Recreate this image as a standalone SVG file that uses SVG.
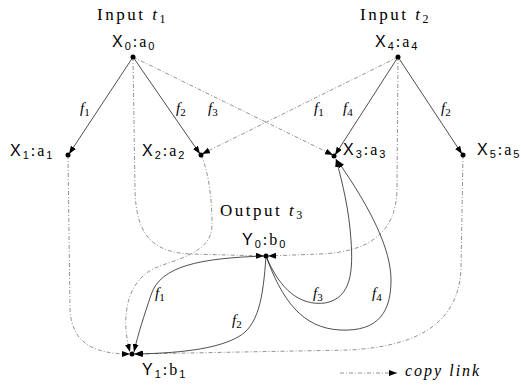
<svg xmlns="http://www.w3.org/2000/svg" width="521" height="385" viewBox="0 0 521 385">
<defs>
<marker id="ah" markerUnits="userSpaceOnUse" markerWidth="9" markerHeight="7" refX="8" refY="3" orient="auto">
<path d="M0,0 L8,3 L0,6 z" fill="#000"/>
</marker>
<style>
.solid{fill:none;stroke:#222;stroke-width:0.8}
.copy{fill:none;stroke:#777;stroke-width:0.8;stroke-dasharray:4 2 1 2}
.arr{marker-end:url(#ah)}
.pt{fill:#000}
.title{font-family:"Liberation Serif",serif;font-size:17px;letter-spacing:2.5px;fill:#000}
.node{font-family:"Liberation Sans",sans-serif;font-size:16px;letter-spacing:2px;fill:#000}
.ser{font-family:"Liberation Serif",serif}
.f{font-family:"Liberation Serif",serif;font-size:15px;font-style:italic;fill:#000}
.sub{font-size:11px;font-style:normal}
.leg{font-family:"Liberation Serif",serif;font-size:16px;font-style:italic;letter-spacing:2px;fill:#000}
</style>
</defs>
<rect width="521" height="385" fill="#fff"/>

<g id="connectors">
<path class="solid arr" d="M133,57 L69,154"/>
<path class="solid arr" d="M133,57 L200,154"/>
<path class="copy arr" d="M133,57 L333,155"/>
<path class="copy arr" d="M398,57 L202,154"/>
<path class="solid arr" d="M398,57 L335,155"/>
<path class="solid arr" d="M398,57 L462,154"/>
<path class="copy arr" d="M133,57 L135,190 C136,232 150,252 190,254 L264,256"/>
<path class="copy arr" d="M201,155 C210,175 212,205 212,225 C212,252 180,258 155,268 C125,282 121,320 130,352"/>
<path class="copy arr" d="M398,57 L397,190 C396,232 370,252 320,254 L268,256"/>
<path class="copy arr" d="M68,155 L70,310 C72,342 92,354 130,354"/>
<path class="copy arr" d="M463,155 L461,270 C458,322 420,346 350,350 L134,354"/>
<path class="solid arr" d="M266,256 C200,258 160,266 151,295 C144,316 138,334 134,352"/>
<path class="solid arr" d="M266,256 C263,300 258,326 238,337 C220,347 190,353 135,354"/>
<path class="solid arr" d="M266,256 C280,290 300,306 325,303 C352,298 353,270 351,240 C349,210 343,185 336,159"/>
<path class="solid arr" d="M266,256 C282,300 302,328 340,330 C380,332 391,310 391,280 C391,250 372,210 337,160"/>
</g>

<g id="edge-labels">
<text class="f" x="80" y="113">f<tspan class="sub" dy="3">1</tspan></text>
<text class="f" x="176" y="113">f<tspan class="sub" dy="3">2</tspan></text>
<text class="f" x="208" y="113">f<tspan class="sub" dy="3">3</tspan></text>
<text class="f" x="314" y="113">f<tspan class="sub" dy="3">1</tspan></text>
<text class="f" x="343" y="113">f<tspan class="sub" dy="3">4</tspan></text>
<text class="f" x="441" y="113">f<tspan class="sub" dy="3">2</tspan></text>
<text class="f" x="155" y="298">f<tspan class="sub" dy="3">1</tspan></text>
<text class="f" x="232" y="325">f<tspan class="sub" dy="3">2</tspan></text>
<text class="f" x="313" y="298">f<tspan class="sub" dy="3">3</tspan></text>
<text class="f" x="372" y="298">f<tspan class="sub" dy="3">4</tspan></text>
</g>

<g id="titles">
<text class="title" x="97" y="20">Input <tspan font-style="italic">t</tspan><tspan font-size="12" dy="3">1</tspan></text>
<text class="title" x="360" y="20">Input <tspan font-style="italic">t</tspan><tspan font-size="12" dy="3">2</tspan></text>
<text class="title" x="220" y="216">Output <tspan font-style="italic">t</tspan><tspan font-size="12" dy="3">3</tspan></text>
</g>

<g id="X0"><circle class="pt" cx="133" cy="57" r="2.5"/>
<text class="node" x="112" y="47">X<tspan font-size="11" dy="3">0</tspan><tspan class="ser" dy="-3">:a</tspan><tspan font-size="11" dy="3">0</tspan></text></g>
<g id="X4"><circle class="pt" cx="398" cy="57" r="2.5"/>
<text class="node" x="375" y="47">X<tspan font-size="11" dy="3">4</tspan><tspan class="ser" dy="-3">:a</tspan><tspan font-size="11" dy="3">4</tspan></text></g>
<g id="X1"><circle class="pt" cx="68" cy="155" r="2.5"/>
<text class="node" x="10" y="156">X<tspan font-size="11" dy="3">1</tspan><tspan class="ser" dy="-3">:a</tspan><tspan font-size="11" dy="3">1</tspan></text></g>
<g id="X2"><circle class="pt" cx="201" cy="155" r="2.5"/>
<text class="node" x="142" y="156">X<tspan font-size="11" dy="3">2</tspan><tspan class="ser" dy="-3">:a</tspan><tspan font-size="11" dy="3">2</tspan></text></g>
<g id="X3"><circle class="pt" cx="334" cy="156" r="2.5"/>
<text class="node" x="343" y="155">X<tspan font-size="11" dy="3">3</tspan><tspan class="ser" dy="-3">:a</tspan><tspan font-size="11" dy="3">3</tspan></text></g>
<g id="X5"><circle class="pt" cx="463" cy="155" r="2.5"/>
<text class="node" x="477" y="155">X<tspan font-size="11" dy="3">5</tspan><tspan class="ser" dy="-3">:a</tspan><tspan font-size="11" dy="3">5</tspan></text></g>
<g id="Y0"><circle class="pt" cx="266" cy="256" r="2.5"/>
<text class="node" x="242" y="245">Y<tspan font-size="11" dy="3">0</tspan><tspan class="ser" dy="-3">:b</tspan><tspan font-size="11" dy="3">0</tspan></text></g>
<g id="Y1"><circle class="pt" cx="132" cy="354" r="2.5"/>
<text class="node" x="142" y="375">Y<tspan font-size="11" dy="3">1</tspan><tspan class="ser" dy="-3">:b</tspan><tspan font-size="11" dy="3">1</tspan></text></g>

<g id="legend">
<path class="copy arr" d="M340,373 L397,373"/>
<text class="leg" x="405" y="376">copy link</text>
</g>
</svg>
